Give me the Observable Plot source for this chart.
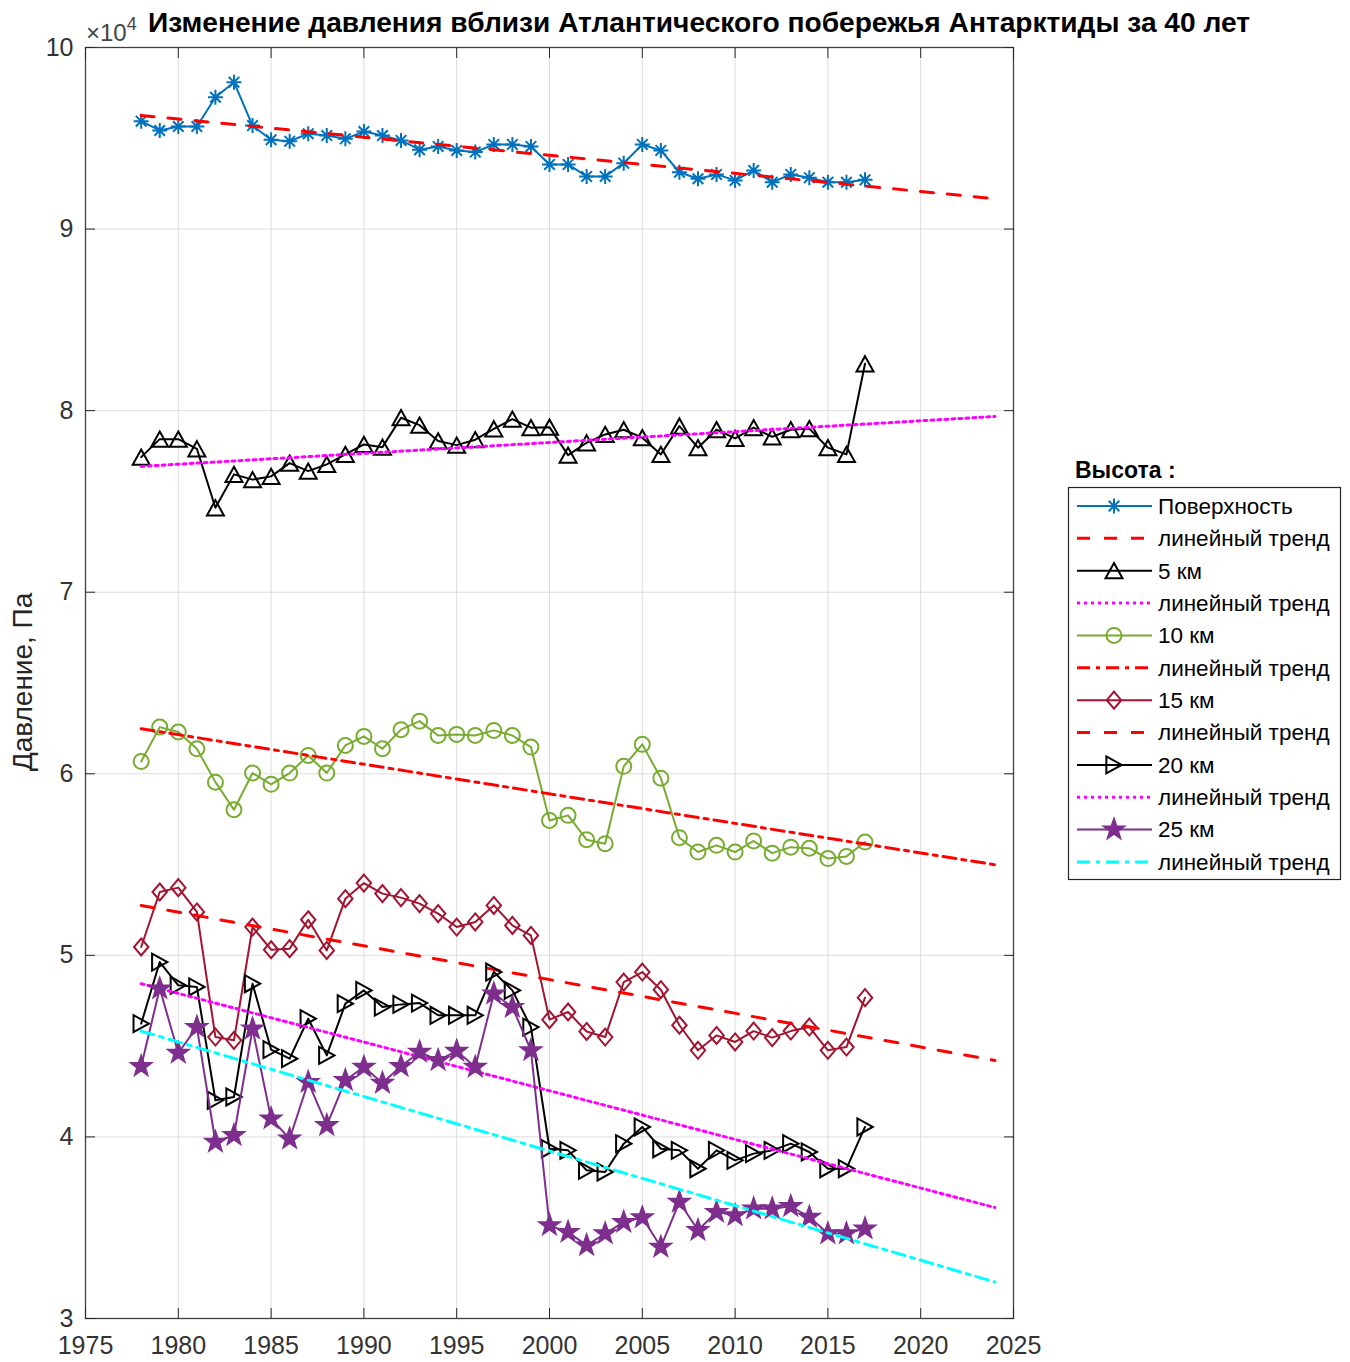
<!DOCTYPE html>
<html>
<head>
<meta charset="utf-8">
<script src="https://cdn.jsdelivr.net/npm/d3@7"></script>
<script src="https://cdn.jsdelivr.net/npm/@observablehq/plot@0.6"></script>
<style>
  body { margin: 0; background: #fff; }
  #chart { position: relative; width: 1350px; height: 1362px; }
  #chart svg { position: absolute; left: 0; top: 0; }
</style>
</head>
<body>
<div id="chart"></div>
<script>
// Annual mean pressure near the Atlantic coast of Antarctica, in units of 10^4 Pa
const years = [1978, 1979, 1980, 1981, 1982, 1983, 1984, 1985, 1986, 1987,
               1988, 1989, 1990, 1991, 1992, 1993, 1994, 1995, 1996, 1997,
               1998, 1999, 2000, 2001, 2002, 2003, 2004, 2005, 2006, 2007,
               2008, 2009, 2010, 2011, 2012, 2013, 2014, 2015, 2016, 2017];

const surface = [9.594, 9.543, 9.565, 9.565, 9.726, 9.809, 9.570, 9.492, 9.484, 9.525,
                 9.515, 9.497, 9.537, 9.515, 9.488, 9.437, 9.455, 9.433, 9.424, 9.466,
                 9.466, 9.455, 9.356, 9.356, 9.290, 9.290, 9.363, 9.466, 9.433, 9.313,
                 9.277, 9.301, 9.268, 9.323, 9.258, 9.301, 9.283, 9.258, 9.258, 9.271];

const km5 = [7.744, 7.843, 7.843, 7.790, 7.465, 7.649, 7.620, 7.638, 7.711, 7.667,
             7.704, 7.759, 7.814, 7.799, 7.961, 7.920, 7.833, 7.810, 7.840, 7.900,
             7.953, 7.906, 7.909, 7.755, 7.823, 7.869, 7.895, 7.851, 7.759, 7.915,
             7.796, 7.895, 7.847, 7.906, 7.856, 7.895, 7.901, 7.796, 7.759, 8.258];

const km10 = [6.068, 6.257, 6.230, 6.138, 5.954, 5.802, 6.004, 5.942, 6.004, 6.101,
              6.004, 6.156, 6.206, 6.138, 6.243, 6.290, 6.211, 6.217, 6.211, 6.239,
              6.211, 6.147, 5.743, 5.771, 5.637, 5.615, 6.041, 6.162, 5.976, 5.648,
              5.569, 5.606, 5.569, 5.630, 5.563, 5.596, 5.590, 5.533, 5.545, 5.624];

const km15 = [5.046, 5.349, 5.373, 5.239, 4.550, 4.532, 5.156, 5.031, 5.037, 5.196,
              5.027, 5.312, 5.398, 5.340, 5.318, 5.285, 5.230, 5.156, 5.184, 5.275,
              5.165, 5.110, 4.646, 4.688, 4.581, 4.550, 4.853, 4.908, 4.811, 4.615,
              4.477, 4.559, 4.523, 4.583, 4.547, 4.583, 4.605, 4.477, 4.495, 4.767];

const km20 = [4.624, 4.963, 4.835, 4.826, 4.202, 4.220, 4.844, 4.481, 4.431, 4.651,
              4.449, 4.734, 4.807, 4.715, 4.730, 4.737, 4.670, 4.670, 4.670, 4.908,
              4.807, 4.605, 3.935, 3.926, 3.816, 3.807, 3.963, 4.055, 3.935, 3.926,
              3.825, 3.926, 3.871, 3.908, 3.926, 3.963, 3.917, 3.825, 3.825, 4.055];

const km25 = [4.389, 4.817, 4.462, 4.605, 3.972, 4.009, 4.596, 4.101, 3.990, 4.302,
              4.064, 4.312, 4.385, 4.297, 4.389, 4.468, 4.422, 4.473, 4.385, 4.789,
              4.715, 4.477, 3.513, 3.476, 3.403, 3.468, 3.531, 3.556, 3.394, 3.642,
              3.486, 3.586, 3.568, 3.605, 3.605, 3.618, 3.559, 3.468, 3.468, 3.495];

// Linear trends: value at the first and last year of the fitted span
const trendYears = [1978, 2024];
const surfaceTrend = [9.626, 9.167];
const km5Trend = [7.693, 7.968];
const km10Trend = [6.248, 5.499];
const km15Trend = [5.275, 4.421];
const km20Trend = [4.844, 3.611];
const km25Trend = [4.583, 3.201];

const seriesNames = ["Поверхность", "5 км", "10 км", "15 км", "20 км", "25 км"];
const trendName = "линейный тренд";
const xTicks = [1975, 1980, 1985, 1990, 1995, 2000, 2005, 2010, 2015, 2020, 2025];
const yTicks = [3, 4, 5, 6, 7, 8, 9, 10];

const titleText = "Изменение давления вблизи Атлантического побережья Антарктиды за 40 лет";
const yLabelText = "Давление, Па";
const legendTitle = "Высота :";

// ---- marker shapes (radius derived from the symbol area Plot passes in) ----
const shape = fn => ({ draw(ctx, size) { fn(ctx, Math.sqrt(size / Math.PI)); } });
const asterisk = shape((c, r) => {
  for (const a of [0, 45, 90, 135]) {
    const t = a * Math.PI / 180, dx = r * Math.cos(t), dy = r * Math.sin(t);
    c.moveTo(dx, dy); c.lineTo(-dx, -dy);
  }
});
const triUp = shape((c, r) => { c.moveTo(0, -0.9 * r); c.lineTo(r, 0.9 * r); c.lineTo(-r, 0.9 * r); c.closePath(); });
const triRight = shape((c, r) => { c.moveTo(0.9 * r, 0); c.lineTo(-0.9 * r, -r); c.lineTo(-0.9 * r, r); c.closePath(); });
const ring = shape((c, r) => { c.moveTo(r, 0); c.arc(0, 0, r, 0, 2 * Math.PI); c.closePath(); });
const diamond = shape((c, r) => { c.moveTo(0, -r); c.lineTo(0.85 * r, 0); c.lineTo(0, r); c.lineTo(-0.85 * r, 0); c.closePath(); });
const star = shape((c, r) => {
  for (let i = 0; i < 10; i++) {
    const rr = i % 2 ? r * 0.4 : r, t = -Math.PI / 2 + i * Math.PI / 5;
    const px = rr * Math.cos(t), py = rr * Math.sin(t);
    i ? c.lineTo(px, py) : c.moveTo(px, py);
  }
  c.closePath();
});

const series = [
  { name: seriesNames[0], values: surface, trend: surfaceTrend, color: "#0072BD", symbol: asterisk, r: 7.5, fill: "none",
    trendColor: "#FF0000", dash: "13,14" },
  { name: seriesNames[1], values: km5, trend: km5Trend, color: "#000000", symbol: triUp, r: 8.5, fill: "none",
    trendColor: "#FF00FF", dash: "3,4" },
  { name: seriesNames[2], values: km10, trend: km10Trend, color: "#77AC30", symbol: ring, r: 7.5, fill: "none",
    trendColor: "#FF0000", dash: "13,6,4,6" },
  { name: seriesNames[3], values: km15, trend: km15Trend, color: "#A2142F", symbol: diamond, r: 8.5, fill: "none",
    trendColor: "#FF0000", dash: "13,14" },
  { name: seriesNames[4], values: km20, trend: km20Trend, color: "#000000", symbol: triRight, r: 8.5, fill: "none",
    trendColor: "#FF00FF", dash: "3,4" },
  { name: seriesNames[5], values: km25, trend: km25Trend, color: "#7E2F8E", symbol: star, r: 10.5, fill: "#7E2F8E",
    trendColor: "#00FFFF", dash: "13,6,4,6" }
];

const marks = [
  Plot.gridX(xTicks, { stroke: "#dcdcdc", strokeOpacity: 1, strokeWidth: 1 }),
  Plot.gridY(yTicks, { stroke: "#dcdcdc", strokeOpacity: 1, strokeWidth: 1 })
];
for (const s of series) {
  const rows = years.map((year, i) => ({ year, v: s.values[i] }));
  const trendRows = trendYears.map((year, i) => ({ year, v: s.trend[i] }));
  marks.push(
    Plot.line(rows, { x: "year", y: "v", stroke: s.color, strokeWidth: 2 }),
    Plot.dot(rows, { x: "year", y: "v", symbol: s.symbol, r: s.r, stroke: s.color, strokeWidth: 2, fill: s.fill }),
    Plot.line(trendRows, { x: "year", y: "v", stroke: s.trendColor, strokeWidth: 3, strokeDasharray: s.dash })
  );
}
marks.push(
  Plot.frame({ stroke: "#404040", strokeWidth: 1.3 }),
  Plot.axisX(xTicks, { anchor: "bottom", tickSize: 0, tickPadding: 18, tickFormat: d => String(d), label: null, fill: "#333" }),
  Plot.axisX(xTicks, { anchor: "bottom", tickSize: -10, tickFormat: () => "", label: null, stroke: "#262626" }),
  Plot.axisX(xTicks, { anchor: "top", tickSize: -10, tickFormat: () => "", label: null, stroke: "#262626" }),
  Plot.axisY(yTicks, { anchor: "left", tickSize: 0, tickPadding: 12, tickFormat: d => String(d), label: null, fill: "#333" }),
  Plot.axisY(yTicks, { anchor: "left", tickSize: -10, tickFormat: () => "", label: null, stroke: "#262626" }),
  Plot.axisY(yTicks, { anchor: "right", tickSize: -10, tickFormat: () => "", label: null, stroke: "#262626" })
);

const chart = Plot.plot({
  width: 1350, height: 1362,
  marginLeft: 85, marginRight: 337, marginTop: 47, marginBottom: 44,
  style: { fontFamily: '"Liberation Sans", Arial, sans-serif', fontSize: "25px", background: "white", overflow: "visible" },
  x: { domain: [1975, 2025] },
  y: { domain: [3, 10] },
  marks
});
const root = document.getElementById("chart");
root.appendChild(chart);

// ---- title, exponent, axis label and legend ----
const font = '"Liberation Sans", Arial, sans-serif';
const over = d3.create("svg")
  .attr("width", 1350).attr("height", 1362)
  .style("pointer-events", "none")
  .style("font-family", font);

over.append("text").attr("x", 148).attr("y", 32)
  .attr("font-size", 28).attr("font-weight", "bold").attr("fill", "#000")
  .attr("textLength", 1102).attr("lengthAdjust", "spacingAndGlyphs")
  .text(titleText);

const expo = over.append("text").attr("x", 86).attr("y", 41).attr("fill", "#444");
expo.append("tspan").attr("font-size", 24).text("×10");
expo.append("tspan").attr("font-size", 18).attr("dy", -11).text("4");

over.append("text")
  .attr("transform", "translate(32,682) rotate(-90)")
  .attr("text-anchor", "middle").attr("font-size", 28).attr("fill", "#262626")
  .text(yLabelText);

over.append("text").attr("x", 1075).attr("y", 478)
  .attr("font-size", 23).attr("font-weight", "bold").attr("fill", "#000")
  .text(legendTitle);

over.append("rect").attr("x", 1068.5).attr("y", 487.5).attr("width", 272).attr("height", 392)
  .attr("fill", "white").attr("stroke", "#262626").attr("stroke-width", 1.2);

const legendItems = [];
for (const s of series) {
  legendItems.push({ label: s.name, color: s.color, symbol: s.symbol, r: s.r, fill: s.fill, width: 2 });
  legendItems.push({ label: trendName, color: s.trendColor, dash: s.dash, width: 3 });
}
legendItems.forEach((it, i) => {
  const y = 506 + i * 32.36;
  const g = over.append("g");
  g.append("line").attr("x1", 1077).attr("x2", 1152).attr("y1", y).attr("y2", y)
    .attr("stroke", it.color).attr("stroke-width", it.width)
    .attr("stroke-dasharray", it.dash || null);
  if (it.symbol) {
    g.append("path").attr("transform", `translate(1114,${y})`)
      .attr("d", d3.symbol(it.symbol, it.r * it.r * Math.PI)())
      .attr("stroke", it.color).attr("stroke-width", 2).attr("fill", it.fill);
  }
  g.append("text").attr("x", 1158).attr("y", y).attr("dy", "0.35em")
    .attr("font-size", 22.5).attr("fill", "#000").text(it.label);
});

root.appendChild(over.node());
</script>
</body>
</html>
